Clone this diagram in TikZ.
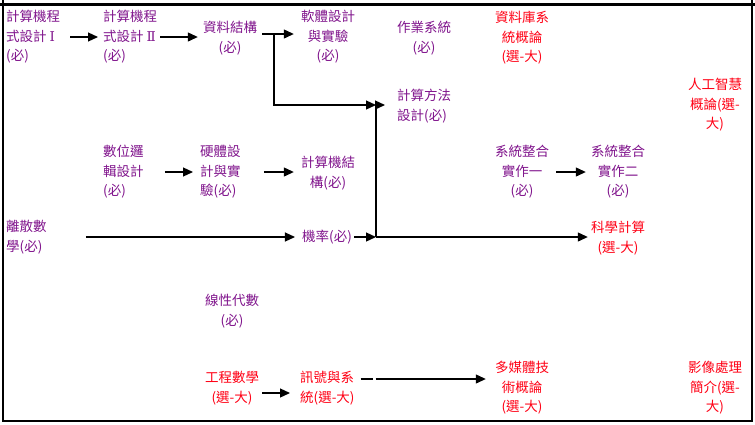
\documentclass[tikz,border=0pt]{standalone}
\usepackage{fontspec}
\newfontfamily\cjk{Noto Sans CJK TC}
\newfontfamily\rom{DejaVu Serif}
\usetikzlibrary{arrows.meta}
\definecolor{req}{RGB}{128,20,140}
\definecolor{ele}{RGB}{255,0,20}
\tikzset{
  txt/.style={font=\cjk\fontsize{13.5}{19.5}\selectfont, inner sep=0pt, align=center, text=req},
  txtl/.style={txt, align=left, anchor=west},
  opt/.style={text=ele},
  arr/.style={line width=1.2pt, -{Triangle[length=10pt,width=9pt]}},
  plain/.style={line width=1.2pt},
  frame/.style={line width=2.4pt}
}
\begin{document}
\begin{tikzpicture}[x=1pt,y=-1pt]
\useasboundingbox (0,0) rectangle (755,424);
% frame
\draw[frame] (0,4.5) -- (755,4.5);
\draw[frame] (3,0) -- (3,422);
\draw[frame] (752,0) -- (752,422);
\draw[frame] (3,421) -- (752,421);

% nodes
\node[txtl] (n1) at (6,37) {計算機程\\式設計 {\rom Ⅰ}\\(必)};
\node[txtl] (n2) at (103,37) {計算機程\\式設計 {\rom Ⅱ}\\(必)};
\node[txt] (n3) at (230,38) {資料結構\\(必)};
\node[txt] (n4) at (328,37) {軟體設計\\與實驗\\(必)};
\node[txt] (n5) at (424,38) {作業系統\\(必)};
\node[txt,opt] (n6) at (522,38) {資料庫系\\統概論\\(選-大)};
\node[txtl] (n7) at (397,106) {計算方法\\設計(必)};
\node[txt,opt] (n8) at (715,105) {人工智慧\\概論(選-\\大)};
\node[txtl] (n9) at (103,172) {數位邏\\輯設計\\(必)};
\node[txtl] (n10) at (200,172) {硬體設\\計與實\\驗(必)};
\node[txt] (n11) at (328,173) {計算機結\\構(必)};
\node[txt] (n12) at (522,172) {系統整合\\實作一\\(必)};
\node[txt] (n13) at (618,172) {系統整合\\實作二\\(必)};
\node[txtl] (n14) at (6,237) {離散數\\學(必)};
\node[txt] (n15) at (327,237) {機率(必)};
\node[txt,opt] (n16) at (618,238) {科學計算\\(選-大)};
\node[txt] (n17) at (232,311) {線性代數\\(必)};
\node[txt,opt] (n18) at (232,388) {工程數學\\(選-大)};
\node[txtl,opt] (n19) at (300,388) {訊號與系\\統(選-大)};
\node[txt,opt] (n20) at (522,388) {多媒體技\\術概論\\(選-大)};
\node[txt,opt] (n21) at (715,388) {影像處理\\簡介(選-\\大)};

% junctions
\coordinate (k) at (274,34);
\coordinate (j1) at (376,105);
\coordinate (j2) at (376,237);

% connectors
\draw[arr, shorten <=10pt, shorten >=5pt] (n1.east) -- (n2.west);
\draw[arr, shorten <=3pt, shorten >=5pt] (n2.east) -- (n2.east -| n3.west);
\draw[arr, shorten <=5pt, shorten >=7pt] ([yshift=4pt]n3.east) -- ([yshift=4pt]n3.east -| n4.west);
\draw[arr] (k) |- (j1);
\draw[arr, shorten >=12pt] (j1) -- (j1 -| n7.west);
\draw[plain] (j1) -- (j2);
\draw[arr, shorten <=39pt, shorten >=7pt] (n14.east) -- (n14.east -| n15.west);
\draw[arr, shorten <=2pt] (n15.east) -- (j2);
\draw[arr, shorten >=3pt] (j2) -- (j2 -| n16.west);
\draw[arr, shorten <=21pt, shorten >=7pt] (n9.east) -- (n9.east -| n10.west);
\draw[arr, shorten <=23pt, shorten >=7pt] (n10.east) -- (n10.east -| n11.west);
\draw[arr, shorten <=7pt, shorten >=5pt] (n12.east) -- (n13.west);
\draw[arr, shorten <=3pt, shorten >=10pt] ([yshift=-5pt]n18.east) -- ([yshift=-5pt]n18.east -| n19.west);
\draw[arr, dash pattern=on 12pt off 3pt on 300pt, shorten <=6pt, shorten >=9pt] ([yshift=9pt]n19.east) -- ([yshift=9pt]n19.east -| n20.west);
\end{tikzpicture}
\end{document}
